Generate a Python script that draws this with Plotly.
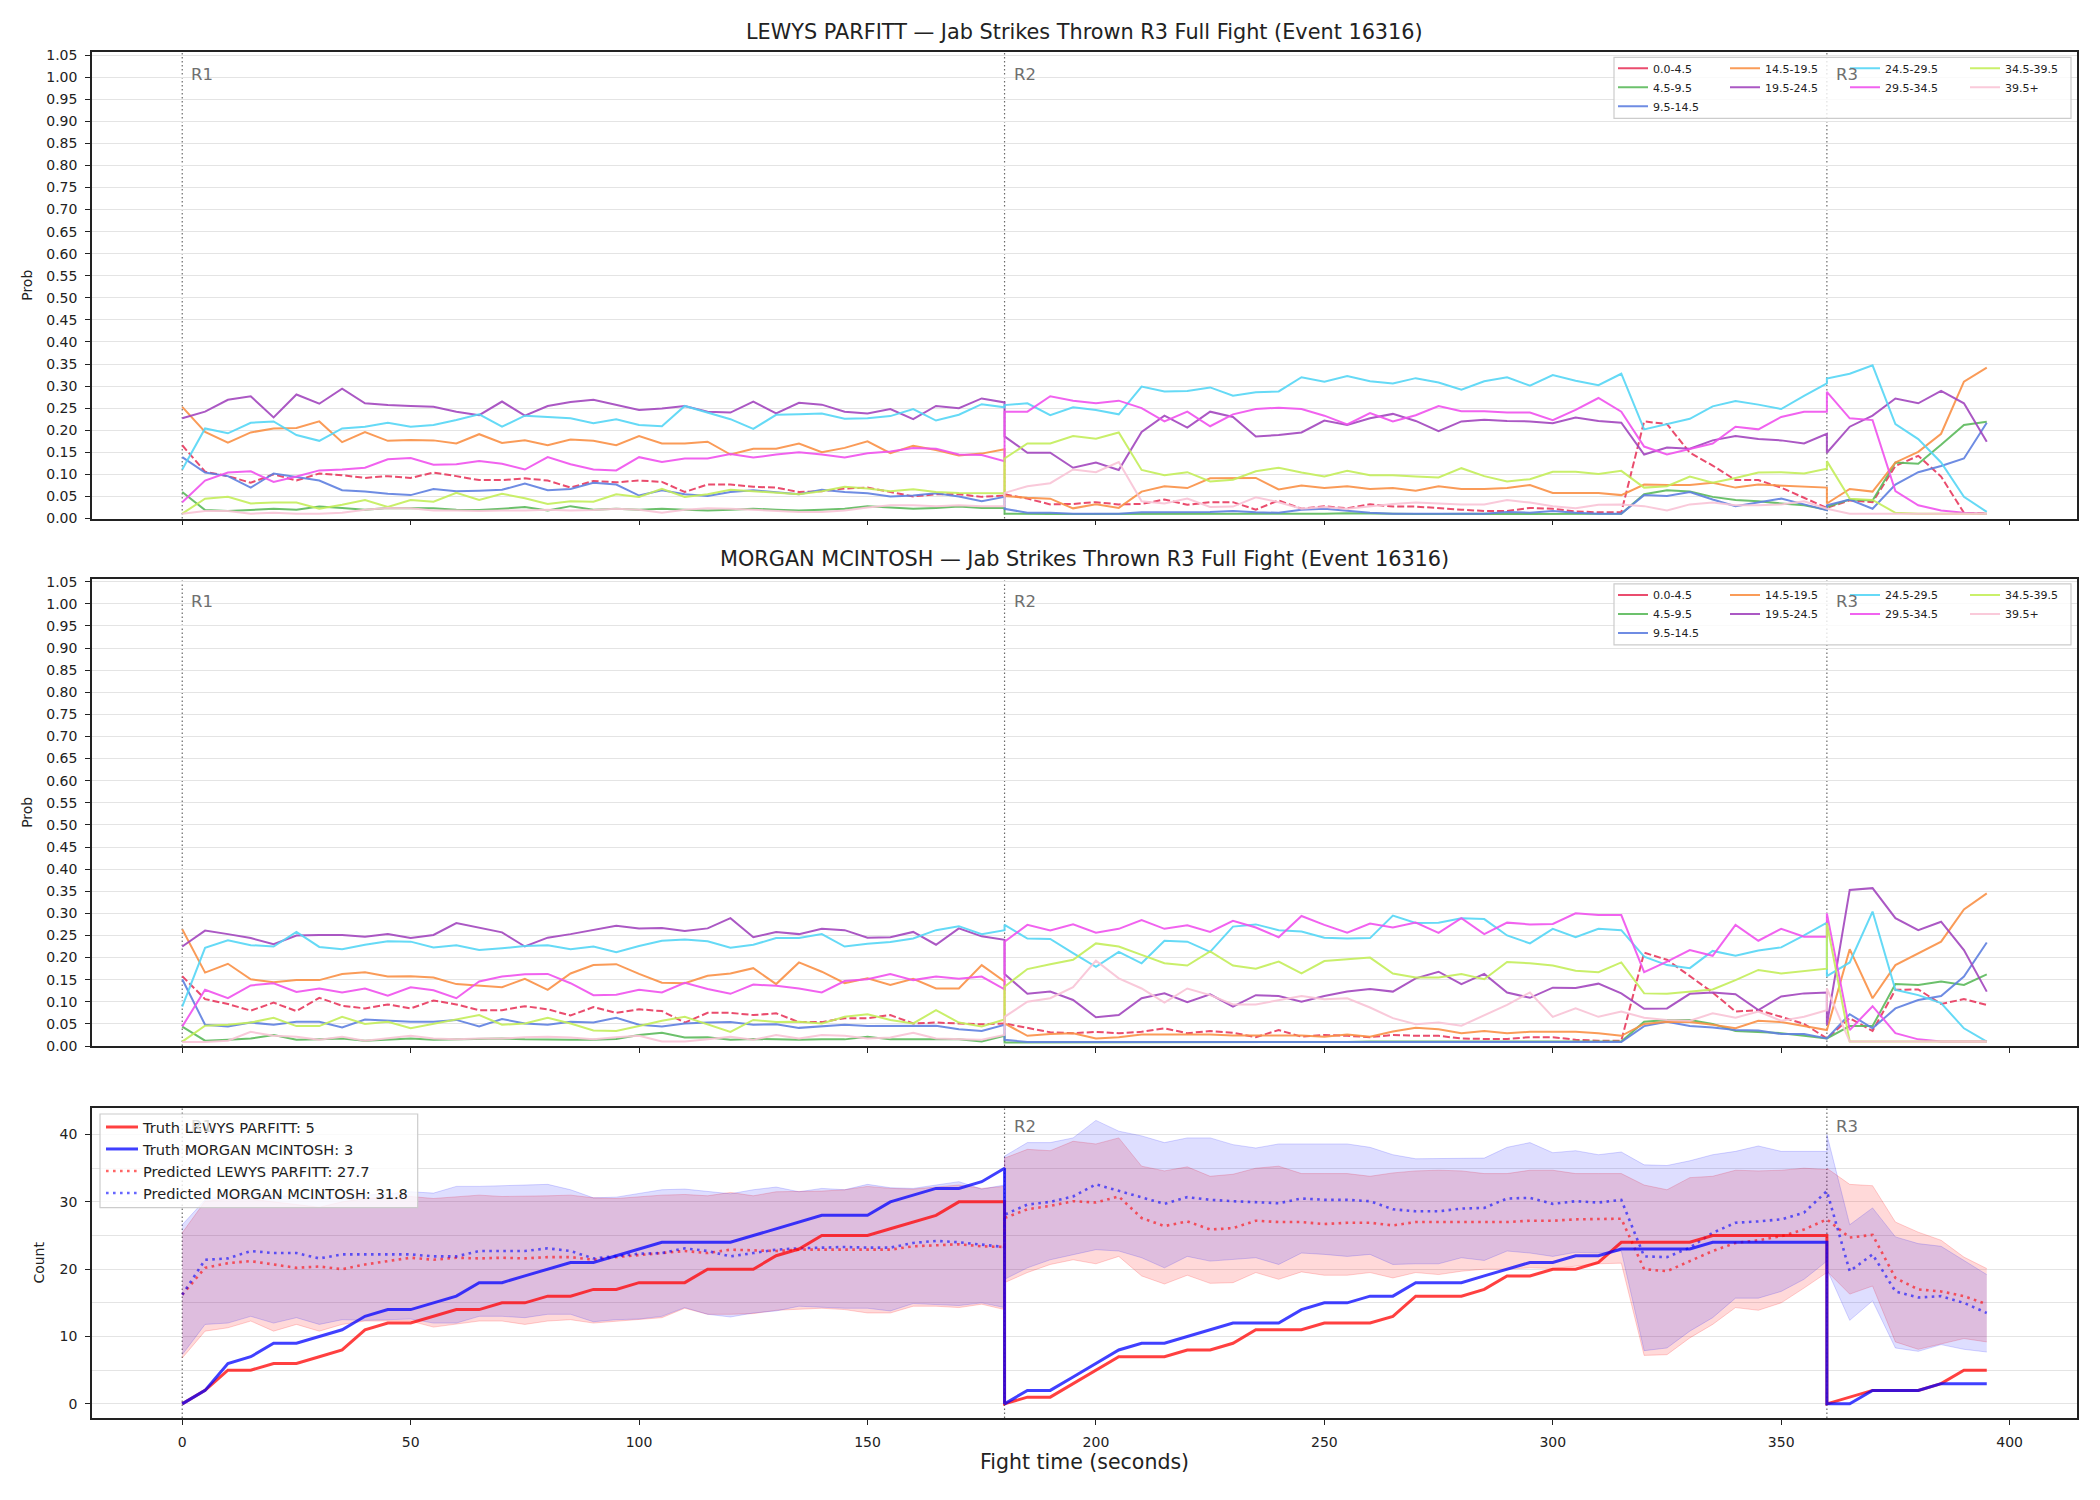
import plotly.graph_objects as go

# ---------------- data ----------------
R1_T = list(range(0, 181, 5))
R2_T = list(range(180, 361, 5))
R3_T = list(range(360, 396, 5))
T = R1_T + R2_T + R3_T
ROUND_STARTS = [0, 180, 360]
ROUND_LABELS = ["R1", "R2", "R3"]

BINS = ["0.0-4.5", "4.5-9.5", "9.5-14.5", "14.5-19.5", "19.5-24.5",
        "24.5-29.5", "29.5-34.5", "34.5-39.5", "39.5+"]
BIN_COLORS = ["#e8395e", "#5cba5c", "#5f80e0", "#fa9146", "#a246be",
              "#55d6f6", "#f052ee", "#c4ee5a", "#f9c4d6"]

# Panel 1: LEWYS PARFITT
p1_00 = [0.166,0.106,0.096,0.081,0.100,0.086,0.102,0.098,0.092,0.096,0.092,0.104,0.096,0.087,0.087,0.091,0.086,0.070,0.085,0.082,0.086,0.083,0.060,0.077,
         0.077,0.072,0.070,0.060,0.062,0.068,0.070,0.060,0.050,0.055,0.055,0.049,0.052,
         0.055,0.045,0.032,0.033,0.037,0.032,0.033,0.043,0.031,0.037,0.037,0.020,0.041,0.022,0.028,0.023,0.032,0.027,0.027,0.023,0.020,0.017,0.017,0.024,0.022,0.016,0.014,0.014,
         0.220,0.214,0.149,0.120,0.087,0.087,0.070,0.047,0.024,
         0.024,0.041,0.037,0.119,0.142,0.095,0.013,0.011]
p1_45 = [0.060,0.019,0.017,0.020,0.022,0.020,0.027,0.024,0.020,0.024,0.023,0.023,0.020,0.019,0.022,0.026,0.018,0.028,0.020,0.022,0.020,0.022,0.020,0.018,
         0.020,0.022,0.020,0.018,0.020,0.022,0.028,0.025,0.022,0.024,0.027,0.024,0.024,
         0.011,0.010,0.010,0.010,0.010,0.011,0.011,0.010,0.010,0.011,0.011,0.010,0.010,0.011,0.011,0.012,0.011,0.010,0.010,0.010,0.011,0.011,0.010,0.010,0.011,0.011,0.011,0.011,
         0.055,0.064,0.061,0.049,0.042,0.039,0.034,0.030,0.020,
         0.026,0.043,0.041,0.127,0.124,0.167,0.212,0.219]
p1_95 = [0.139,0.104,0.096,0.070,0.102,0.094,0.086,0.064,0.061,0.056,0.053,0.067,0.062,0.063,0.065,0.079,0.064,0.067,0.081,0.077,0.052,0.064,0.055,0.051,
         0.060,0.064,0.060,0.055,0.065,0.060,0.057,0.050,0.052,0.057,0.050,0.039,0.049,
         0.022,0.013,0.013,0.011,0.011,0.011,0.014,0.014,0.014,0.015,0.017,0.014,0.013,0.020,0.022,0.017,0.013,0.011,0.011,0.011,0.011,0.011,0.015,0.013,0.017,0.013,0.011,0.011,
         0.053,0.051,0.060,0.043,0.028,0.037,0.045,0.032,0.019,
         0.030,0.043,0.022,0.077,0.105,0.119,0.136,0.217]
p1_145 = [0.253,0.196,0.172,0.195,0.204,0.205,0.220,0.173,0.196,0.176,0.178,0.177,0.170,0.191,0.171,0.177,0.166,0.179,0.176,0.166,0.187,0.170,0.170,0.174,
          0.145,0.158,0.158,0.170,0.150,0.160,0.175,0.148,0.165,0.155,0.143,0.147,0.157,
          0.051,0.047,0.045,0.023,0.032,0.024,0.061,0.073,0.069,0.091,0.092,0.092,0.066,0.075,0.069,0.073,0.067,0.069,0.063,0.073,0.067,0.067,0.069,0.076,0.058,0.058,0.058,0.053,
          0.077,0.076,0.076,0.081,0.070,0.077,0.075,0.072,0.070,
          0.034,0.067,0.061,0.127,0.151,0.192,0.310,0.342]
p1_195 = [0.227,0.242,0.269,0.277,0.229,0.281,0.260,0.294,0.261,0.257,0.255,0.253,0.242,0.234,0.265,0.233,0.255,0.264,0.269,0.257,0.246,0.249,0.255,0.242,
          0.240,0.265,0.238,0.262,0.258,0.242,0.238,0.248,0.225,0.255,0.250,0.272,0.263,
          0.186,0.149,0.149,0.115,0.127,0.110,0.196,0.233,0.206,0.242,0.230,0.186,0.189,0.195,0.222,0.212,0.227,0.237,0.221,0.198,0.220,0.224,0.221,0.220,0.216,0.229,0.221,0.217,
          0.145,0.161,0.158,0.177,0.187,0.180,0.177,0.170,0.192,
          0.149,0.208,0.233,0.272,0.261,0.289,0.261,0.174]
p1_245 = [0.111,0.204,0.193,0.217,0.220,0.189,0.176,0.204,0.208,0.217,0.208,0.212,0.223,0.236,0.208,0.233,0.230,0.227,0.216,0.225,0.212,0.209,0.255,0.240,
          0.225,0.203,0.235,0.236,0.238,0.226,0.227,0.232,0.248,0.222,0.235,0.259,0.252,
          0.257,0.261,0.234,0.252,0.246,0.236,0.299,0.288,0.289,0.297,0.278,0.286,0.288,0.320,0.310,0.323,0.311,0.306,0.318,0.308,0.292,0.311,0.320,0.301,0.325,0.312,0.302,0.328,
          0.202,0.214,0.226,0.254,0.266,0.258,0.248,0.278,0.306,
          0.317,0.328,0.347,0.214,0.180,0.127,0.049,0.015]
p1_295 = [0.037,0.086,0.104,0.107,0.083,0.095,0.109,0.111,0.115,0.134,0.137,0.122,0.123,0.130,0.124,0.111,0.139,0.123,0.111,0.109,0.139,0.128,0.136,0.136,
          0.146,0.138,0.145,0.150,0.145,0.138,0.148,0.152,0.160,0.158,0.145,0.144,0.130,
          0.242,0.242,0.277,0.267,0.261,0.267,0.250,0.220,0.242,0.209,0.236,0.248,0.251,0.248,0.233,0.213,0.239,0.220,0.234,0.255,0.243,0.243,0.240,0.240,0.223,0.246,0.273,0.242,
          0.163,0.145,0.157,0.170,0.208,0.202,0.230,0.242,0.242,
          0.287,0.227,0.223,0.062,0.030,0.018,0.013,0.011]
p1_345 = [0.011,0.045,0.049,0.034,0.036,0.036,0.022,0.031,0.042,0.026,0.042,0.038,0.058,0.042,0.056,0.046,0.033,0.039,0.038,0.055,0.049,0.067,0.049,0.055,
          0.065,0.062,0.058,0.055,0.062,0.072,0.068,0.062,0.066,0.060,0.058,0.057,0.057,
          0.136,0.170,0.170,0.187,0.181,0.195,0.110,0.098,0.105,0.084,0.088,0.107,0.115,0.104,0.095,0.108,0.098,0.098,0.095,0.093,0.114,0.096,0.084,0.089,0.106,0.106,0.101,0.108,
          0.070,0.073,0.095,0.081,0.092,0.104,0.105,0.102,0.113,
          0.130,0.045,0.042,0.013,0.011,0.011,0.011,0.011]
p1_395 = [0.011,0.017,0.017,0.011,0.013,0.011,0.011,0.013,0.020,0.024,0.023,0.018,0.018,0.017,0.018,0.018,0.020,0.018,0.019,0.022,0.020,0.013,0.020,0.023,
          0.022,0.020,0.018,0.015,0.015,0.018,0.025,0.030,0.030,0.028,0.030,0.028,0.028,
          0.058,0.073,0.080,0.111,0.105,0.128,0.039,0.034,0.045,0.026,0.027,0.048,0.037,0.022,0.026,0.022,0.028,0.033,0.036,0.034,0.032,0.032,0.042,0.036,0.028,0.023,0.031,0.032,
          0.028,0.018,0.032,0.036,0.030,0.030,0.032,0.039,0.022,
          0.022,0.011,0.011,0.011,0.011,0.011,0.011,0.011]

# Panel 2: MORGAN MCINTOSH
p2_00 = [0.158,0.106,0.095,0.080,0.098,0.079,0.109,0.091,0.085,0.094,0.085,0.103,0.094,0.081,0.081,0.090,0.083,0.069,0.088,0.075,0.083,0.079,0.053,0.075,0.075,0.070,0.074,
         0.054,0.054,0.063,0.063,0.070,0.051,0.053,0.051,0.049,0.051,
         0.051,0.041,0.031,0.029,0.032,0.029,0.032,0.040,0.029,0.034,0.030,0.020,0.036,0.021,0.025,0.023,0.020,0.025,
         0.023,0.023,0.017,0.016,0.016,0.020,0.020,0.014,0.012,0.012,0.211,0.195,0.158,0.121,0.078,0.081,0.066,0.050,0.017,
         0.017,0.063,0.034,0.127,0.128,0.095,0.106,0.093]
p2_45 = [0.044,0.012,0.014,0.017,0.025,0.014,0.015,0.017,0.012,0.014,0.017,0.014,0.015,0.016,0.017,0.015,0.014,0.014,0.014,0.016,0.025,0.030,0.019,0.020,0.014,0.016,0.015,
         0.014,0.015,0.015,0.021,0.015,0.015,0.015,0.015,0.010,0.023,
         0.008,0.008,0.008,0.008,0.008,0.008,0.008,0.008,0.008,0.009,0.009,0.009,0.009,0.009,0.009,0.009,0.010,0.010,
         0.010,0.010,0.010,0.010,0.010,0.010,0.010,0.010,0.010,0.010,0.055,0.059,0.059,0.050,0.034,0.032,0.029,0.023,0.017,
         0.017,0.045,0.045,0.140,0.138,0.146,0.138,0.162]
p2_95 = [0.151,0.048,0.044,0.053,0.048,0.055,0.055,0.042,0.060,0.057,0.055,0.055,0.059,0.044,0.061,0.051,0.048,0.055,0.053,0.064,0.048,0.044,0.051,0.053,0.054,0.048,0.049,
         0.041,0.044,0.048,0.045,0.045,0.045,0.046,0.038,0.034,0.048,
         0.014,0.009,0.009,0.009,0.009,0.009,0.009,0.009,0.009,0.009,0.009,0.009,0.009,0.009,0.009,0.009,0.009,0.009,
         0.009,0.009,0.009,0.009,0.009,0.009,0.009,0.009,0.009,0.009,0.045,0.055,0.045,0.042,0.036,0.035,0.027,0.027,0.017,
         0.017,0.072,0.040,0.085,0.104,0.113,0.157,0.234]
p2_145 = [0.264,0.166,0.186,0.151,0.144,0.149,0.149,0.163,0.167,0.157,0.158,0.155,0.140,0.136,0.133,0.152,0.127,0.164,0.183,0.185,0.163,0.143,0.142,0.159,0.164,0.176,0.140,
          0.189,0.168,0.142,0.153,0.138,0.152,0.130,0.130,0.183,0.146,
          0.051,0.023,0.027,0.029,0.017,0.020,0.026,0.026,0.026,0.026,0.024,0.024,0.023,0.024,0.021,0.026,0.021,0.033,
          0.041,0.038,0.029,0.034,0.029,0.032,0.032,0.032,0.029,0.023,0.050,0.055,0.054,0.048,0.040,0.057,0.054,0.045,0.036,
          0.036,0.219,0.108,0.183,0.210,0.236,0.309,0.345]
p2_195 = [0.225,0.261,0.253,0.244,0.230,0.250,0.251,0.251,0.247,0.253,0.244,0.251,0.278,0.267,0.257,0.225,0.245,0.253,0.263,0.272,0.266,0.267,0.260,0.266,0.289,0.246,0.258,
          0.253,0.265,0.262,0.245,0.246,0.258,0.229,0.266,0.248,0.240,
          0.163,0.118,0.123,0.104,0.065,0.070,0.108,0.119,0.099,0.117,0.089,0.115,0.113,0.100,0.113,0.123,0.129,0.123,
          0.153,0.168,0.140,0.163,0.121,0.109,0.132,0.131,0.141,0.119,0.084,0.085,0.118,0.121,0.117,0.081,0.112,0.119,0.121,
          0.048,0.353,0.357,0.289,0.262,0.281,0.217,0.123]
p2_245 = [0.089,0.222,0.239,0.228,0.225,0.258,0.224,0.219,0.229,0.237,0.236,0.223,0.228,0.217,0.221,0.226,0.228,0.219,0.225,0.212,0.226,0.238,0.241,0.237,0.222,0.229,0.244,
          0.244,0.253,0.225,0.231,0.235,0.243,0.262,0.271,0.253,0.262,
          0.274,0.243,0.242,0.210,0.179,0.213,0.187,0.238,0.236,0.213,0.270,0.275,0.262,0.259,0.245,0.243,0.244,0.295,
          0.278,0.279,0.289,0.287,0.250,0.232,0.265,0.246,0.265,0.262,0.202,0.183,0.176,0.215,0.204,0.216,0.223,0.250,0.279,
          0.158,0.189,0.304,0.127,0.115,0.097,0.040,0.010]
p2_295 = [0.044,0.127,0.108,0.137,0.142,0.122,0.130,0.121,0.130,0.114,0.133,0.126,0.108,0.146,0.157,0.162,0.163,0.142,0.115,0.116,0.127,0.121,0.143,0.129,0.118,0.139,0.136,
          0.130,0.121,0.147,0.151,0.163,0.149,0.157,0.152,0.157,0.128,
          0.236,0.274,0.261,0.275,0.256,0.265,0.285,0.265,0.273,0.258,0.283,0.268,0.246,0.294,0.274,0.256,0.277,0.268,
          0.279,0.256,0.289,0.253,0.279,0.275,0.276,0.300,0.296,0.296,0.167,0.191,0.217,0.204,0.274,0.238,0.265,0.247,0.247,
          0.300,0.036,0.090,0.029,0.015,0.010,0.010,0.010]
p2_345 = [0.010,0.046,0.048,0.053,0.064,0.045,0.045,0.066,0.050,0.055,0.040,0.050,0.059,0.070,0.048,0.051,0.064,0.051,0.035,0.034,0.045,0.057,0.066,0.049,0.032,0.059,0.054,
          0.055,0.051,0.066,0.072,0.059,0.051,0.081,0.053,0.044,0.060,
          0.134,0.174,0.185,0.195,0.232,0.225,0.206,0.187,0.182,0.214,0.182,0.175,0.191,0.164,0.192,0.196,0.200,0.164,
          0.155,0.155,0.163,0.151,0.190,0.187,0.182,0.170,0.167,0.189,0.119,0.118,0.123,0.128,0.149,0.172,0.164,0.170,0.175,
          0.278,0.010,0.010,0.010,0.010,0.010,0.010,0.010]
p2_395 = [0.009,0.009,0.012,0.032,0.023,0.021,0.014,0.021,0.012,0.017,0.023,0.017,0.015,0.017,0.017,0.020,0.021,0.019,0.015,0.020,0.023,0.010,0.010,0.015,0.021,0.014,0.025,
          0.017,0.025,0.023,0.017,0.019,0.030,0.017,0.015,0.014,0.025,
          0.066,0.100,0.108,0.133,0.193,0.153,0.130,0.098,0.130,0.115,0.094,0.094,0.103,0.113,0.106,0.108,0.087,0.063,
          0.049,0.053,0.046,0.069,0.093,0.121,0.066,0.085,0.066,0.078,0.064,0.059,0.057,0.074,0.064,0.078,0.057,0.066,0.081,
          0.130,0.010,0.010,0.010,0.010,0.010,0.010,0.010]

# Panel 3: cumulative counts
truth_lewys = [0,2,5,5,6,6,7,8,11,12,12,13,14,14,15,15,16,16,17,17,18,18,18,20,20,20,22,23,25,25,25,26,27,28,30,30,30,
               0,1,1,3,5,7,7,7,8,8,9,11,11,11,12,12,12,13,16,16,16,17,19,19,20,20,21,24,24,24,24,25,25,25,25,25,25,
               0,1,2,2,2,3,5,5]
truth_morgan = [0,2,6,7,9,9,10,11,13,14,14,15,16,18,18,19,20,21,21,22,23,24,24,24,24,25,26,27,28,28,28,30,31,32,32,33,35,
                0,2,2,4,6,8,9,9,10,11,12,12,12,14,15,15,16,16,18,18,18,19,20,21,21,22,22,23,23,23,23,24,24,24,24,24,24,
                0,0,2,2,2,3,3,3]
pred_lewys = [16.2,20.2,20.9,21.2,20.7,20.2,20.4,20.0,20.7,21.2,21.7,21.4,21.7,21.6,21.7,21.6,21.8,21.8,21.4,21.8,22.1,22.4,22.7,22.4,22.9,22.8,22.7,
              22.9,22.9,22.8,22.8,22.9,23.4,23.6,23.7,23.4,23.3,
              27.6,28.9,29.4,30.1,29.9,30.8,27.6,26.4,27.1,25.9,26.1,27.2,27.0,27.0,26.7,26.9,26.9,26.5,
              27.0,27.0,27.1,27.1,27.0,27.2,27.2,27.4,27.5,27.5,20.0,19.7,21.2,22.7,23.9,24.3,24.9,25.9,27.4,
              27.4,24.7,25.1,18.7,17.0,16.7,16.0,14.8]
pred_morgan = [16.2,21.4,21.6,22.7,22.4,22.4,21.6,22.2,22.2,22.2,22.2,21.9,21.9,22.7,22.7,22.7,23.1,22.7,21.6,21.9,22.3,22.4,23.1,22.7,21.9,22.4,22.9,
               23.1,23.2,23.3,23.2,23.2,23.9,24.2,24.0,23.7,23.3,
               28.1,29.6,30.0,30.8,32.6,31.6,30.6,29.7,30.7,30.3,30.1,30.0,29.8,30.5,30.3,30.3,30.1,28.9,
               28.6,28.6,29.0,29.1,30.5,30.6,29.7,30.1,29.9,30.3,21.9,21.8,23.2,25.4,26.9,27.1,27.4,28.4,31.6,
               31.6,19.7,22.2,16.7,15.8,16.0,15.0,13.5]
lewys_upper = [25.4,30.1,30.4,30.4,30.0,29.6,29.2,30.0,30.5,30.6,30.8,30.5,30.7,31.0,30.8,30.8,30.9,31.0,30.6,30.5,30.8,31.0,31.1,30.9,31.4,30.9,31.5,
               31.5,31.6,31.8,32.3,32.0,31.9,32.2,32.5,32.0,32.3,
               36.5,37.8,37.6,39.0,38.6,39.5,35.3,34.6,35.2,33.8,34.1,35.0,35.3,34.2,34.2,34.2,33.8,34.3,
               34.6,34.7,34.6,34.2,34.2,34.7,34.7,34.2,34.2,34.2,32.5,31.8,33.6,33.8,34.7,34.6,34.7,35.0,34.8,
               35.0,32.6,32.4,27.0,25.5,24.3,21.8,20.1]
lewys_lower = [6.8,10.8,11.3,12.3,10.8,11.8,10.8,11.8,12.3,12.3,12.3,11.4,11.8,12.3,12.3,11.8,12.3,12.5,12.0,12.3,12.5,12.8,14.2,13.3,13.3,13.4,13.9,
               14.0,14.2,14.0,13.5,13.5,14.5,14.5,14.3,14.8,14.0,
               18.0,19.5,20.7,21.4,20.8,21.9,19.0,17.8,19.1,17.9,18.0,19.5,18.5,19.6,19.1,19.1,19.5,18.7,
               19.5,19.2,19.7,20.0,20.0,20.2,20.1,20.4,20.8,20.9,7.2,7.3,9.8,11.8,14.3,13.9,15.0,17.2,19.5,
               19.7,16.3,17.5,9.2,8.1,8.9,9.7,9.2]
morgan_upper = [26.6,30.3,31.1,31.3,30.9,30.8,30.5,30.8,31.0,31.2,31.5,31.3,32.3,32.3,32.4,32.4,32.6,31.8,30.6,30.7,31.3,31.8,31.9,31.5,31.2,31.8,32.2,
                31.5,32.0,31.8,32.6,32.1,32.0,32.5,33.0,31.9,32.5,
                36.8,38.8,38.8,39.5,42.1,40.5,39.8,38.8,39.5,39.5,38.5,38.0,38.6,38.6,38.6,38.6,38.1,37.0,
                36.4,36.4,36.5,36.5,38.1,38.8,37.3,37.6,37.0,37.4,35.5,35.4,36.1,37.0,37.5,38.3,37.5,37.5,37.5,
                40.0,26.6,29.1,24.8,23.8,23.4,21.3,19.2]
morgan_lower = [7.3,11.8,12.0,13.0,12.0,12.8,11.8,12.5,12.4,12.5,12.6,12.0,12.0,13.0,13.0,12.8,13.3,13.3,12.2,12.5,12.6,13.0,14.3,13.3,12.9,13.5,13.8,
                14.5,14.3,14.2,14.2,13.8,14.9,14.8,14.6,15.0,14.3,
                18.5,20.2,21.4,22.2,22.9,22.7,21.7,20.2,21.9,21.2,21.4,21.7,20.7,22.4,22.2,21.9,22.2,20.7,
                20.8,20.8,21.7,21.3,22.7,22.4,21.9,22.5,22.4,22.7,7.9,8.3,10.8,12.8,15.7,15.7,16.7,18.5,21.2,
                20.0,12.4,15.3,8.3,7.8,8.8,8.1,7.7]

TITLE1 = "LEWYS PARFITT — Jab Strikes Thrown R3 Full Fight (Event 16316)"
TITLE2 = "MORGAN MCINTOSH — Jab Strikes Thrown R3 Full Fight (Event 16316)"
LEG3 = ["Truth LEWYS PARFITT: 5", "Truth MORGAN MCINTOSH: 3",
        "Predicted LEWYS PARFITT: 27.7", "Predicted MORGAN MCINTOSH: 31.8"]

P1 = [p1_00, p1_45, p1_95, p1_145, p1_195, p1_245, p1_295, p1_345, p1_395]
P2 = [p2_00, p2_45, p2_95, p2_145, p2_195, p2_245, p2_295, p2_345, p2_395]
_bad = [(i, len(a)) for i, a in enumerate(P1 + P2 + [truth_lewys, truth_morgan, pred_lewys, pred_morgan,
        lewys_upper, lewys_lower, morgan_upper, morgan_lower]) if len(a) != len(T)]
if _bad:
    raise SystemExit("length mismatch %s (T=%d)" % (_bad, len(T)))

# ---------------- layout geometry (pixels) ----------------
W, H = 2100, 1500
ML, MR, MT, MB = 92, 23, 52, 82
PW, PH = W - ML - MR, H - MT - MB


def xp(px):
    return (px - ML) / PW


def yp(py):
    return (H - MB - py) / PH


PANEL_PX = [(52, 518.5), (578.6, 1046), (1107.6, 1418)]
FONT = "DejaVu Sans"
INK = "#222222"

fig = go.Figure()

# ---------------- probability panels ----------------
LEG_COLS = [[0, 1, 2], [3, 4], [5, 6], [7, 8]]
LEG_X_PX = [1613, 1725, 1845, 1965]
for pi, P in enumerate([P1, P2]):
    xa = "x" if pi == 0 else "x2"
    ya = "y" if pi == 0 else "y2"
    for bi, vals in enumerate(P):
        fig.add_trace(go.Scatter(
            x=T, y=vals, xaxis=xa, yaxis=ya, mode="lines", showlegend=False,
            line=dict(color=BIN_COLORS[bi], width=2, dash="7px,3px" if bi == 0 else "solid"),
            opacity=0.9, hoverinfo="skip", legend="legend"))
    for ci, col in enumerate(LEG_COLS):
        lname = "legend" + ("" if pi * 4 + ci == 0 else str(pi * 4 + ci + 1))
        for bi in col:
            fig.add_trace(go.Scatter(
                x=[None], y=[None], xaxis=xa, yaxis=ya, mode="lines", name=BINS[bi],
                line=dict(color=BIN_COLORS[bi], width=2), opacity=0.9, legend=lname))

# ---------------- count panel ----------------
fig.add_trace(go.Scatter(x=T, y=lewys_lower, xaxis="x3", yaxis="y3", mode="lines", legend="legend9",
                         line=dict(color="rgba(255,0,0,0.18)", width=1), showlegend=False, hoverinfo="skip"))
fig.add_trace(go.Scatter(x=T, y=lewys_upper, xaxis="x3", yaxis="y3", mode="lines", fill="tonexty",
                         fillcolor="rgba(255,0,0,0.15)", legend="legend9",
                         line=dict(color="rgba(255,0,0,0.18)", width=1), showlegend=False, hoverinfo="skip"))
fig.add_trace(go.Scatter(x=T, y=morgan_lower, xaxis="x3", yaxis="y3", mode="lines", legend="legend9",
                         line=dict(color="rgba(0,0,255,0.16)", width=1), showlegend=False, hoverinfo="skip"))
fig.add_trace(go.Scatter(x=T, y=morgan_upper, xaxis="x3", yaxis="y3", mode="lines", fill="tonexty",
                         fillcolor="rgba(0,0,255,0.13)", legend="legend9",
                         line=dict(color="rgba(0,0,255,0.16)", width=1), showlegend=False, hoverinfo="skip"))
fig.add_trace(go.Scatter(x=T, y=pred_lewys, xaxis="x3", yaxis="y3", mode="lines", name=LEG3[2],
                         line=dict(color="rgba(255,0,0,0.6)", width=2.6, dash="2.6px,4.4px"),
                         legend="legend9", legendrank=3))
fig.add_trace(go.Scatter(x=T, y=pred_morgan, xaxis="x3", yaxis="y3", mode="lines", name=LEG3[3],
                         line=dict(color="rgba(0,0,255,0.6)", width=2.6, dash="2.6px,4.4px"),
                         legend="legend9", legendrank=4))
fig.add_trace(go.Scatter(x=T, y=truth_lewys, xaxis="x3", yaxis="y3", mode="lines", name=LEG3[0],
                         line=dict(color="rgba(255,0,0,0.75)", width=3), legend="legend9", legendrank=1))
fig.add_trace(go.Scatter(x=T, y=truth_morgan, xaxis="x3", yaxis="y3", mode="lines", name=LEG3[1],
                         line=dict(color="rgba(0,0,255,0.75)", width=3), legend="legend9", legendrank=2))

# ---------------- axes ----------------
axis_common = dict(showline=True, linecolor=INK, linewidth=1.5, mirror=True, zeroline=False,
                   ticks="outside", ticklen=5, tickwidth=1.2, tickcolor=INK,
                   tickfont=dict(family=FONT, size=14, color=INK))
xcommon = dict(axis_common, range=[-19.75, 414.75], tickvals=[0, 50, 100, 150, 200, 250, 300, 350, 400],
               showgrid=False)
layout_axes = {}
for i, (top, bot) in enumerate(PANEL_PX):
    sfx = "" if i == 0 else str(i + 1)
    xd = dict(xcommon, domain=[0, 1], anchor="y" + sfx, showticklabels=(i == 2))
    if i == 2:
        xd.update(title=dict(text="Fight time (seconds)", font=dict(family=FONT, size=20.5, color=INK), standoff=6),
                  ticklabelstandoff=5)
    layout_axes["xaxis" + sfx] = xd
    yd = dict(axis_common, domain=[yp(bot), yp(top)], anchor="x" + sfx, showgrid=True,
              gridcolor="#e4e4e4", gridwidth=1, ticklabelstandoff=5)
    if i < 2:
        yd.update(range=[0, 1.057], dtick=0.05, tick0=0, tickformat=".2f",
                  title=dict(text="Prob", font=dict(family=FONT, size=14, color=INK), standoff=10))
    else:
        yd.update(range=[-2.1, 44.0], dtick=10, tick0=0,
                  minor=dict(dtick=5, tick0=0, showgrid=True, gridcolor="#e4e4e4", gridwidth=1, ticks=""),
                  title=dict(text="Count", font=dict(family=FONT, size=14, color=INK), standoff=12))
    layout_axes["yaxis" + sfx] = yd

# ---------------- shapes & annotations ----------------
shapes = []
annotations = []
for i in range(3):
    sfx = "" if i == 0 else str(i + 1)
    for rs, rl in zip(ROUND_STARTS, ROUND_LABELS):
        shapes.append(dict(type="line", xref="x" + sfx, yref="y" + sfx + " domain", x0=rs, x1=rs, y0=0, y1=1,
                           line=dict(color="#6a6a6a", width=1.2, dash="1.5px,2.5px"), layer="below"))
        annotations.append(dict(text=rl, xref="x" + sfx, yref="y" + sfx + " domain", x=rs, y=1,
                                xanchor="left", yanchor="top", xshift=7, yshift=(-11 if i < 2 else -7),
                                showarrow=False,
                                font=dict(family=FONT, size=16.5,
                                          color="#dadada" if (i == 2 and rs == 0) else "#6f6f6f")))
for ttl, (top, bot) in zip([TITLE1, TITLE2], PANEL_PX[:2]):
    annotations.append(dict(text=ttl, xref="paper", yref="paper", x=0.5, y=yp(top), xanchor="center",
                            yanchor="bottom", yshift=6, showarrow=False,
                            font=dict(family=FONT, size=20.8, color=INK)))

# legend frames
frames = [(1614, 57.3, 2071, 118.3), (1614, 583.9, 2071, 644.9), (100, 1114, 417.7, 1207.7)]
for (l, t, r, b) in frames:
    shapes.append(dict(type="rect", xref="paper", yref="paper", x0=xp(l), x1=xp(r), y0=yp(b), y1=yp(t),
                       line=dict(color="#cccccc", width=1.2), fillcolor="rgba(255,255,255,0.8)", layer="above"))

legends = {}
for pi in range(2):
    top_px = 53.8 + (0 if pi == 0 else 526.6)
    for ci in range(4):
        idx = pi * 4 + ci
        lname = "legend" + ("" if idx == 0 else str(idx + 1))
        legends[lname] = dict(x=xp(LEG_X_PX[ci]), y=yp(top_px), xanchor="left", yanchor="top",
                              bgcolor="rgba(0,0,0,0)", borderwidth=0, tracegroupgap=0, traceorder="normal",
                              font=dict(family=FONT, size=11, color=INK))
legends["legend9"] = dict(x=xp(101), y=yp(1111), xanchor="left", yanchor="top", itemwidth=32,
                          bgcolor="rgba(0,0,0,0)", borderwidth=0, tracegroupgap=0, traceorder="normal",
                          font=dict(family=FONT, size=14.6, color=INK))

fig.update_layout(
    width=W, height=H, margin=dict(l=ML, r=MR, t=MT, b=MB),
    paper_bgcolor="white", plot_bgcolor="white",
    font=dict(family=FONT, size=14, color=INK),
    shapes=shapes, annotations=annotations,
    **layout_axes, **legends,
)

fig.write_html("out.html")
